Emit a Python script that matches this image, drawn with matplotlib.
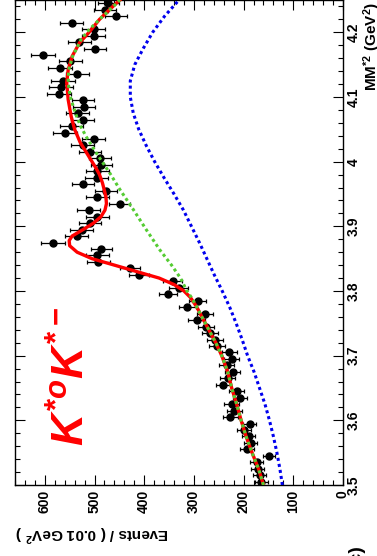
import numpy as np
import matplotlib
matplotlib.use('Agg')
import matplotlib.pyplot as plt
from matplotlib.ticker import MultipleLocator

plt.rcParams['font.family'] = ['Liberation Sans', 'DejaVu Sans']
plt.rcParams['font.weight'] = 'bold'
plt.rcParams['mathtext.fontset'] = 'custom'
plt.rcParams['mathtext.rm'] = 'Liberation Sans:bold'
plt.rcParams['mathtext.it'] = 'Liberation Sans:italic:bold'
plt.rcParams['mathtext.bf'] = 'Liberation Sans:bold'

# histogram: missing mass squared, 0.01 GeV^2 bins starting at 3.50
bin_start = 3.50
bin_width = 0.01
events = [164, 168, 172, 174, 148, 194, 186, 190, 199, 188,
          227, 219, 224, 207, 214, 241, 232, 222, 234, 224,
          229, 253, 258, 268, 276, 294, 278, 313, 292, 352,
          331, 343, 410, 429, 492, 494, 486, 584, 536, 526,
          509, 494, 512, 449, 494, 477, 523, 496, 494, 486,
          489, 509, 524, 502, 559, 546, 524, 534, 521, 523,
          571, 567, 564, 535, 569, 549, 604, 499, 531, 502,
          502, 546, 457, 479, 472]

# total fit
fit_mm2 = [3.500, 3.525, 3.550, 3.575, 3.600, 3.625, 3.650, 3.675, 3.700, 3.720,
           3.740, 3.760, 3.775, 3.790, 3.800, 3.810, 3.820, 3.830, 3.840, 3.850,
           3.860, 3.870, 3.878, 3.885, 3.895, 3.905, 3.915, 3.925, 3.935, 3.945,
           3.955, 3.967, 3.980, 3.990, 4.000, 4.010, 4.020, 4.030, 4.050, 4.070,
           4.096, 4.122, 4.142, 4.163, 4.184, 4.200, 4.220, 4.235, 4.250]
fit_val = [160, 170, 183, 195, 205, 214, 224, 232, 244, 256,
           270, 284, 294, 307, 320, 340, 370, 415, 460, 505,
           535, 550, 551, 545, 523, 502, 487, 479, 476, 477,
           480, 484, 490, 497, 505, 513, 521, 529, 540, 547,
           553, 556, 553, 545, 530, 511, 490, 470, 449]

# smooth background
bkg_mm2 = [3.500, 3.525, 3.550, 3.575, 3.600, 3.625, 3.650, 3.675, 3.700, 3.720,
           3.740, 3.760, 3.775, 3.790, 3.800, 3.820, 3.840, 3.864, 3.895, 3.926,
           3.957, 3.982, 3.998, 4.013, 4.029, 4.039, 4.055, 4.070, 4.086, 4.101,
           4.122, 4.142, 4.163, 4.189, 4.204, 4.220, 4.240, 4.250]
bkg_val = [160, 170, 183, 195, 205, 214, 224, 232, 244, 256,
           270, 284, 294, 305, 314, 327, 345, 369, 396, 422,
           449, 469, 483, 496, 509, 517, 528, 536, 543, 549,
           553, 552, 544, 527, 511, 490, 462, 449]

# second background component
comp_mm2 = [3.500, 3.525, 3.550, 3.575, 3.600, 3.625, 3.650, 3.675, 3.700, 3.725,
             3.750, 3.775, 3.800, 3.825, 3.850, 3.875, 3.900, 3.925, 3.950, 3.975,
             4.000, 4.025, 4.050, 4.075, 4.100, 4.125, 4.150, 4.175, 4.200, 4.225,
             4.250]
comp_val = [122, 127, 133, 140, 148, 157, 168, 179, 192, 203,
            215, 228, 243, 259, 274, 289, 305, 321, 340, 360,
            379, 396, 411, 422, 428, 428, 419, 402, 383, 359,
            330]

mm2_ticks = [3.5, 3.6, 3.7, 3.8, 3.9, 4.0, 4.1, 4.2]
mm2_labels = ['3.5', '3.6', '3.7', '3.8', '3.9', '4', '4.1', '4.2']
ev_ticks = [0, 100, 200, 300, 400, 500, 600]
ev_labels = ['0', '100', '200', '300', '400', '500', '600']

events = np.array(events, dtype=float)
mm2 = bin_start + bin_width * (np.arange(len(events)) + 0.5)

W, H = 377, 556
fig = plt.figure(figsize=(W / 100, H / 100), dpi=100)
ax = fig.add_axes([15 / W, 71 / H, 328 / W, 485 / H])

# drawn on its side: events run right-to-left, mass runs upward
ax.errorbar(events, mm2, xerr=np.sqrt(events), fmt='o', color='black',
            ms=5, elinewidth=0.9, capsize=1.6, capthick=0.9, zorder=2)
ax.plot(fit_val, fit_mm2, color='#ff0000', lw=2.4, zorder=3)
ax.plot(bkg_val, bkg_mm2, color='#55cc33', lw=2.2, ls=(0, (1, 1)), zorder=4)
ax.plot(comp_val, comp_mm2, color='#0000ee', lw=2.2, ls=(0, (1, 1)), zorder=4)

ax.set_xlim(660, 0)
ax.set_ylim(3.5, 4.25)

ax.yaxis.tick_right()
ax.set_yticks(mm2_ticks)
ax.set_yticklabels(mm2_labels, rotation=90, va='center', fontsize=10)
ax.set_xticks(ev_ticks)
ax.set_xticklabels(ev_labels, rotation=90, fontsize=10)
ax.xaxis.set_minor_locator(MultipleLocator(20))
ax.yaxis.set_minor_locator(MultipleLocator(0.02))
ax.tick_params(which='both', direction='in', top=True, bottom=True,
               left=True, right=True, labelleft=False, labeltop=False,
               labelright=True, labelbottom=True, width=0.8)
ax.tick_params(which='major', length=7.5)
ax.tick_params(which='minor', length=3.8)
ax.tick_params(axis='y', pad=3)
ax.tick_params(axis='x', pad=3.5)
for s in ax.spines.values():
    s.set_linewidth(1.0)

ax.text(545, 3.668, r'$K^{*o}K^{*-}$', color='#ff0000', fontsize=32,
        rotation=90, ha='center', va='center')

fig.text(92 / W, 1 - 533 / H, r'Events / ( 0.01 GeV$^{2}$ )', rotation=180,
         ha='center', va='center', fontsize=11)
fig.text(372 / W, 1 - 2 / H, r'MM$^{*2}$ (GeV$^{2}$)', rotation=90,
         ha='center', va='top', fontsize=11)
fig.text(357 / W, 1 - 545 / H, '(c)', rotation=90, ha='center', va='top',
         fontsize=14)

fig.savefig('out.png', dpi=100)
